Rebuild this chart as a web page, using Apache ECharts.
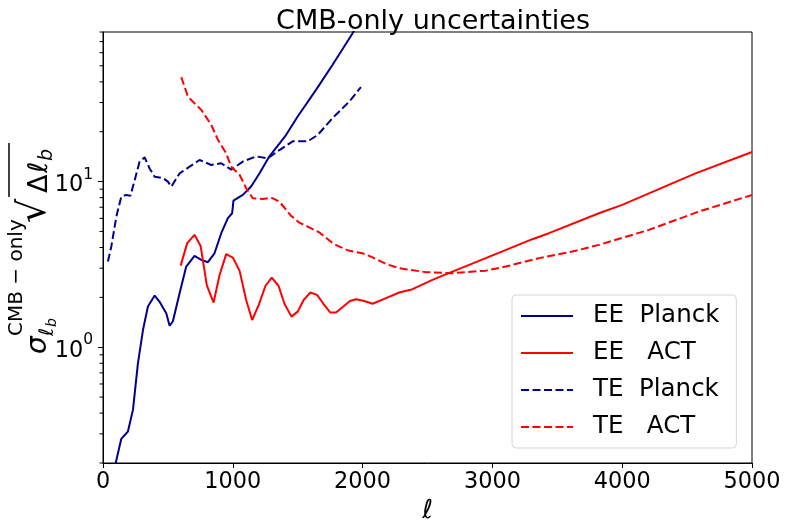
<!DOCTYPE html>
<html>
<head>
<meta charset="utf-8">
<script src="https://cdn.jsdelivr.net/npm/echarts@6/dist/echarts.min.js"></script>
<style>html,body{margin:0;padding:0;background:#fff}#c{width:789px;height:531px}</style>
</head>
<body>
<div id="c"></div>
<script>
const seriesNames = ['EE  Planck', 'EE   ACT', 'TE  Planck', 'TE   ACT'];
const xTicks = [0, 1000, 2000, 3000, 4000, 5000];
const yMinorTicks = [0.2,0.3,0.4,0.5,0.6,0.7,0.8,0.9,2,3,4,5,6,7,8,9,20,30,40,50,60,70,80];

const eePlanck = [[80,0.17],[98,0.2],[141,0.28],[192,0.31],[231,0.42],[269,0.80],[308,1.27],[346,1.76],[398,2.05],[436,1.88],[488,1.60],[500,1.57],[513,1.35],[538,1.43],[590,2.12],[641,3.07],[705,3.56],[757,3.37],[808,3.26],[859,3.69],[911,4.88],[962,6.01],[995,6.44],[1005,7.68],[1077,8.31],[1141,9.33],[1205,11.2],[1282,14.2],[1410,19.1],[1500,24.7],[1641,35.8],[1769,50.7],[1923,78.7],[2000,98]];
const eeACT = [[598,3.11],[649,4.25],[705,4.77],[752,4.09],[800,2.36],[852,1.86],[898,2.73],[949,3.65],[1000,3.48],[1052,2.90],[1103,1.93],[1149,1.46],[1200,1.80],[1252,2.35],[1300,2.63],[1352,2.35],[1398,1.83],[1452,1.53],[1500,1.64],[1546,1.93],[1598,2.14],[1649,2.07],[1698,1.83],[1752,1.62],[1795,1.62],[1852,1.76],[1903,1.90],[1949,1.95],[2013,1.90],[2077,1.83],[2180,1.98],[2282,2.14],[2385,2.24],[2538,2.55],[2692,2.86],[2949,3.45],[3308,4.49],[3436,4.88],[3821,6.44],[4000,7.23],[4565,11.2],[5000,15.1]];
const tePlanck = [[38,3.29],[64,4.05],[103,6.15],[141,8.12],[180,8.31],[211,8.2],[244,10.2],[282,13.2],[321,14.0],[359,12.0],[398,10.7],[462,10.5],[500,10.0],[526,9.33],[590,11.2],[667,12.3],[744,13.5],[834,12.6],[911,12.9],[988,11.8],[1077,13.2],[1180,14.2],[1269,13.8],[1359,15.5],[1462,17.5],[1577,17.5],[1654,19.1],[1769,24.2],[1897,30.4],[1987,37.2]];
const teACT = [[603,42.7],[654,32.6],[718,29.0],[757,27.1],[834,22.0],[885,17.9],[949,14.8],[988,12.3],[1052,11.0],[1103,9.12],[1154,7.94],[1231,7.86],[1295,8.00],[1359,7.57],[1449,6.21],[1513,5.65],[1577,5.35],[1667,4.93],[1769,4.25],[1821,4.05],[1897,3.82],[2000,3.69],[2077,3.49],[2180,3.18],[2282,3.00],[2333,2.96],[2487,2.84],[2692,2.80],[2949,2.90],[3103,3.07],[3359,3.45],[3615,3.78],[3821,4.15],[4205,5.11],[4590,6.59],[5000,8.3]];

const FF = 'DejaVu Sans';
const NAVY = '#00008b', RED = '#ff0000';
const chart = echarts.init(document.getElementById('c'), null, {renderer: 'canvas'});

function lineSeries(name, data, color, dashed) {
  return {
    name: name, type: 'line', data: data, showSymbol: false, symbol: 'none',
    lineStyle: {color: color, width: 2, type: dashed ? [8, 3.5] : 'solid'},
    itemStyle: {color: color}, z: 3, silent: true
  };
}

// y-axis label pieces (rotated text)
function rt(text, fs, italic, baseX, startY) {
  return {
    type: 'text', x: baseX - 0.3 * fs, y: startY, rotation: Math.PI / 2,
    style: {text: text, fontFamily: FF, fontSize: fs, fontStyle: italic ? 'italic' : 'normal',
      fill: '#000', align: 'left', verticalAlign: 'middle'}
  };
}

const option = {
  animation: false,
  backgroundColor: '#fff',
  title: {
    text: 'CMB-only uncertainties', left: 428, top: 3, textAlign: 'center',
    textStyle: {fontFamily: FF, fontSize: 27, fontWeight: 'normal', color: '#000'}
  },
  grid: {left: 103, right: 37, top: 32, bottom: 68, show: true, borderColor: '#000', borderWidth: 1, containLabel: false},
  legend: {
    data: seriesNames, orient: 'vertical', left: 512, top: 295,
    itemWidth: 52, itemHeight: 14, itemGap: 11,
    padding: [8, 17, 8, 8], backgroundColor: '#fff', borderColor: '#d6d6d6', borderWidth: 1, borderRadius: 4,
    itemStyle: {opacity: 0},
    textStyle: {fontFamily: FF, fontSize: 24.5, color: '#000', lineHeight: 26, padding: [0, 0, 0, 15]}
  },
  xAxis: {
    type: 'value', min: xTicks[0], max: xTicks[xTicks.length - 1], interval: 1000,
    name: 'ℓ', nameLocation: 'middle', nameGap: 33,
    nameTextStyle: {fontFamily: FF, fontSize: 26, fontStyle: 'italic', color: '#000'},
    axisLine: {show: true, lineStyle: {color: '#000', width: 1}},
    axisTick: {show: true, inside: false, length: 5, lineStyle: {color: '#000', width: 1}},
    axisLabel: {fontFamily: FF, fontSize: 22.4, color: '#000', margin: 8, formatter: function (v) { return String(v); }},
    splitLine: {show: false}
  },
  yAxis: {
    type: 'log', logBase: 10, min: 0.2, max: 80,
    axisLine: {show: true, lineStyle: {color: '#000', width: 1}},
    axisTick: {show: true, inside: false, length: 5, lineStyle: {color: '#000', width: 1}},
    axisLabel: {
      showMinLabel: false, showMaxLabel: false, margin: 10, color: '#000',
      formatter: function (v) { return '{a|10}{s|' + Math.round(Math.log10(v)) + '}'; },
      rich: {
        a: {fontFamily: FF, fontSize: 22.4, color: '#000', lineHeight: 30, verticalAlign: 'bottom'},
        s: {fontFamily: FF, fontSize: 15.5, color: '#000', lineHeight: 30, verticalAlign: 'top'}
      }
    },
    splitLine: {show: false}
  },
  graphic: [
    rt('σ', 28, true, 47, 354),
    rt('CMB − only', 20, false, 23, 336),
    rt('ℓ', 20, true, 54, 336),
    rt('b', 14, true, 57, 327),
    rt('√', 38, false, 47, 223),
    rt('Δ', 27, false, 48, 193),
    rt('ℓ', 27, true, 48, 173),
    rt('b', 19, true, 53, 161),
    {type: 'line', shape: {x1: 9, y1: 197, x2: 9, y2: 143}, style: {stroke: '#000', lineWidth: 1.5}}
  ],
  series: [
    lineSeries(seriesNames[0], eePlanck, NAVY, false),
    lineSeries(seriesNames[1], eeACT, RED, false),
    lineSeries(seriesNames[2], tePlanck, NAVY, true),
    lineSeries(seriesNames[3], teACT, RED, true),
    {
      type: 'custom', silent: true, clip: false, z: 5,
      data: yMinorTicks.map(function (v) { return [0, v]; }),
      renderItem: function (params, api) {
        const p = api.coord([0, api.value(1)]);
        return {type: 'line', shape: {x1: p[0] - 3.5, y1: p[1], x2: p[0], y2: p[1]}, style: {stroke: '#000', lineWidth: 1}};
      }
    }
  ]
};
chart.setOption(option);
</script>
</body>
</html>
